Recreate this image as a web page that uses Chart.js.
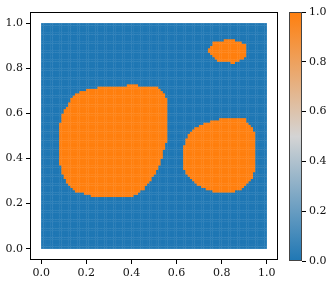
<!DOCTYPE html>
<html>
<head>
<meta charset="utf-8">
<script src="https://cdn.jsdelivr.net/npm/chart.js@4/dist/chart.umd.min.js"></script>
<style>
html,body{margin:0;padding:0;background:#fff;}
#wrap{position:relative;width:332px;height:286px;}
#main{position:absolute;left:0;top:0;}
#cbar{position:absolute;left:282px;top:0;}
</style>
</head>
<body>
<div id="wrap">
<canvas id="main" width="332" height="286"></canvas>
<canvas id="cbar" width="50" height="286"></canvas>
</div>
<script>
// ---- data ----
const xTicks = [0.0, 0.2, 0.4, 0.6, 0.8, 1.0];
const yTicks = [0.0, 0.2, 0.4, 0.6, 0.8, 1.0];
const cbTicks = [0.0, 0.2, 0.4, 0.6, 0.8, 1.0];
const gridN = 100; // cells per side

// large blob (left)
const blobA_x = [0.142,0.172,0.261,0.409,0.513,0.550,0.565,0.565,0.550,0.528,0.498,0.453,0.409,0.239,0.157,0.113,0.088,0.080,0.080,0.090,0.113];
const blobA_y = [0.676,0.698,0.717,0.727,0.717,0.683,0.653,0.513,0.453,0.379,0.320,0.261,0.234,0.231,0.253,0.291,0.350,0.394,0.535,0.587,0.631];
// right blob
const blobB_x = [0.631,0.643,0.676,0.735,0.794,0.905,0.935,0.954,0.954,0.935,0.898,0.839,0.764,0.690,0.646,0.631];
const blobB_y = [0.439,0.490,0.535,0.562,0.576,0.576,0.542,0.498,0.364,0.305,0.268,0.250,0.253,0.283,0.328,0.364];
// small blob (top right)
const blobC_x = [0.742,0.764,0.839,0.905,0.909,0.853,0.779,0.750];
const blobC_y = [0.883,0.916,0.932,0.910,0.851,0.824,0.831,0.861];

const BLUE = '#1f77b4', ORANGE = '#ff7f0e', MID = '#d4d4d4';
const FONT = {family: 'DejaVu Serif', size: 11};

function inside(px, py, xs, ys) {
  let c = false;
  for (let i = 0, j = xs.length - 1; i < xs.length; j = i++) {
    if (((ys[i] > py) !== (ys[j] > py)) &&
        (px < (xs[j] - xs[i]) * (py - ys[i]) / (ys[j] - ys[i]) + xs[i])) c = !c;
  }
  return c;
}
const blobs = [[blobA_x, blobA_y], [blobB_x, blobB_y], [blobC_x, blobC_y]];
const cells = [];
for (let j = 0; j < gridN; j++) {
  for (let i = 0; i < gridN; i++) {
    const x = (i + 0.5) / gridN, y = (j + 0.5) / gridN;
    const v = blobs.some(b => inside(x, y, b[0], b[1])) ? 1 : 0;
    cells.push({x, y, v});
  }
}

const frame = (color) => ({
  id: 'frame',
  afterDatasetsDraw(chart) {
    const a = chart.chartArea, c = chart.ctx;
    c.save();
    c.strokeStyle = color; c.lineWidth = 1;
    c.strokeRect(Math.round(a.left) + 0.5, Math.round(a.top) + 0.5,
                 Math.round(a.right - a.left) - 1, Math.round(a.bottom - a.top) - 1);
    c.restore();
  }
});

const axisCommon = (ticks) => ({
  type: 'linear', min: -0.05, max: 1.05,
  afterBuildTicks: s => { s.ticks = ticks.map(v => ({value: v})); },
  ticks: {callback: v => Number(v).toFixed(1), font: FONT, color: '#111', padding: 3, maxRotation: 0, autoSkip: false},
  grid: {drawOnChartArea: false, drawTicks: true, tickLength: 4, color: '#000', tickWidth: 1},
  border: {display: false}
});

new Chart(document.getElementById('main'), {
  type: 'scatter',
  data: {
    datasets: [{
      data: cells,
      pointStyle: 'rect',
      borderWidth: 0,
      backgroundColor: ctx => (ctx.raw && ctx.raw.v) ? ORANGE : BLUE,
      pointRadius: ctx => {
        const s = ctx.chart.scales.x;
        if (!s) return 1.7;
        const w = Math.abs(s.getPixelForValue(1 / gridN) - s.getPixelForValue(0));
        return (w + 0.35) / (2 * Math.SQRT1_2);
      },
      pointHoverRadius: 0
    }]
  },
  options: {
    responsive: false, animation: false, events: [],
    layout: {padding: {top: 12, right: 54, left: 0, bottom: 0}},
    plugins: {legend: {display: false}, tooltip: {enabled: false}},
    scales: {
      x: Object.assign(axisCommon(xTicks), {afterFit: s => { s.height = 26; }}),
      y: Object.assign(axisCommon(yTicks), {afterFit: s => { s.width = 30; }})
    }
  },
  plugins: [frame('#000')]
});

new Chart(document.getElementById('cbar'), {
  type: 'bar',
  data: {
    labels: ['c'],
    datasets: [{
      data: [[0, 1]],
      borderWidth: 0,
      barPercentage: 1, categoryPercentage: 1,
      backgroundColor: ctx => {
        const ca = ctx.chart.chartArea;
        if (!ca) return BLUE;
        const g = ctx.chart.ctx.createLinearGradient(0, ca.bottom, 0, ca.top);
        g.addColorStop(0, BLUE); g.addColorStop(0.5, MID); g.addColorStop(1, ORANGE);
        return g;
      }
    }]
  },
  options: {
    responsive: false, animation: false, events: [],
    layout: {padding: {top: 12, left: 7, right: 0, bottom: 25}},
    plugins: {legend: {display: false}, tooltip: {enabled: false}},
    scales: {
      x: {type: 'category', display: false},
      y: {
        type: 'linear', position: 'right', min: 0, max: 1,
        afterBuildTicks: s => { s.ticks = cbTicks.map(v => ({value: v})); },
        afterFit: s => { s.width = 30; },
        ticks: {callback: v => Number(v).toFixed(1), font: FONT, color: '#111', padding: 3, autoSkip: false},
        grid: {drawOnChartArea: false, drawTicks: true, tickLength: 4, color: '#000'},
        border: {display: false}
      }
    }
  },
  plugins: [frame('#444')]
});
</script>
</body>
</html>
